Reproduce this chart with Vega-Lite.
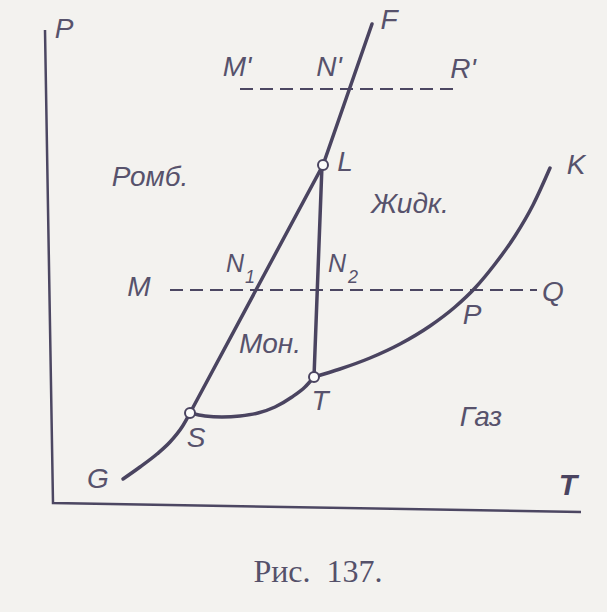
{
  "$schema": "https://vega.github.io/schema/vega-lite/v6.json",
  "width": 607,
  "height": 612,
  "autosize": {"type": "fit", "contains": "padding"},
  "padding": 0,
  "background": "#f3f2ef",
  "config": {"view": {"stroke": null}},
  "datasets": {
    "frame": [
      {"i": 0, "x": 45, "y": 582},
      {"i": 1, "x": 53, "y": 109},
      {"i": 2, "x": 581, "y": 100}
    ],
    "curves": [
      {"curve": "GS", "i": 0, "x": 123, "y": 133},
      {"curve": "GS", "i": 1, "x": 140, "y": 145},
      {"curve": "GS", "i": 2, "x": 157, "y": 158},
      {"curve": "GS", "i": 3, "x": 170, "y": 170},
      {"curve": "GS", "i": 4, "x": 182, "y": 185},
      {"curve": "GS", "i": 5, "x": 190, "y": 199},
      {"curve": "ST", "i": 0, "x": 190, "y": 199},
      {"curve": "ST", "i": 1, "x": 205, "y": 196},
      {"curve": "ST", "i": 2, "x": 222, "y": 195},
      {"curve": "ST", "i": 3, "x": 240, "y": 196},
      {"curve": "ST", "i": 4, "x": 258, "y": 199},
      {"curve": "ST", "i": 5, "x": 275, "y": 205},
      {"curve": "ST", "i": 6, "x": 292, "y": 215},
      {"curve": "ST", "i": 7, "x": 305, "y": 225},
      {"curve": "ST", "i": 8, "x": 314, "y": 235},
      {"curve": "TK", "i": 0, "x": 314, "y": 235},
      {"curve": "TK", "i": 1, "x": 340, "y": 243},
      {"curve": "TK", "i": 2, "x": 370, "y": 254},
      {"curve": "TK", "i": 3, "x": 400, "y": 268},
      {"curve": "TK", "i": 4, "x": 430, "y": 286},
      {"curve": "TK", "i": 5, "x": 455, "y": 305},
      {"curve": "TK", "i": 6, "x": 475, "y": 324},
      {"curve": "TK", "i": 7, "x": 495, "y": 348},
      {"curve": "TK", "i": 8, "x": 515, "y": 376},
      {"curve": "TK", "i": 9, "x": 533, "y": 407},
      {"curve": "TK", "i": 10, "x": 550, "y": 444}
    ],
    "straight": [
      {"curve": "SLF", "i": 0, "x": 190, "y": 199},
      {"curve": "SLF", "i": 1, "x": 323, "y": 447},
      {"curve": "SLF", "i": 2, "x": 372, "y": 588},
      {"curve": "TL", "i": 0, "x": 314, "y": 235},
      {"curve": "TL", "i": 1, "x": 322, "y": 447}
    ],
    "dashed": [
      {"curve": "MQ", "i": 0, "x": 170, "y": 322},
      {"curve": "MQ", "i": 1, "x": 537, "y": 322},
      {"curve": "MR", "i": 0, "x": 240, "y": 523},
      {"curve": "MR", "i": 1, "x": 457, "y": 523}
    ],
    "points": [
      {"name": "S", "x": 190, "y": 199},
      {"name": "L", "x": 323, "y": 447},
      {"name": "T", "x": 314, "y": 235}
    ],
    "labels": [
      {"text": "P", "x": 64, "y": 582},
      {"text": "M'", "x": 237, "y": 544},
      {"text": "N'", "x": 329, "y": 544},
      {"text": "R'", "x": 463, "y": 542},
      {"text": "F", "x": 389, "y": 591},
      {"text": "L", "x": 345, "y": 449},
      {"text": "K", "x": 576, "y": 446},
      {"text": "Жидк.", "x": 410, "y": 407},
      {"text": "Ромб.", "x": 150, "y": 434},
      {"text": "M", "x": 139, "y": 324},
      {"text": "Q", "x": 553, "y": 319},
      {"text": "Мон.", "x": 270, "y": 267},
      {"text": "S", "x": 196, "y": 173},
      {"text": "G", "x": 98, "y": 132},
      {"text": "T", "x": 320, "y": 210},
      {"text": "P", "x": 472, "y": 296},
      {"text": "Газ", "x": 481, "y": 194}
    ],
    "nlabels": [
      {"text": "N", "x": 235, "y": 348},
      {"text": "N", "x": 337, "y": 348}
    ],
    "subs": [
      {"text": "1", "x": 250, "y": 334},
      {"text": "2", "x": 353, "y": 334}
    ],
    "axislabel": [
      {"text": "T", "x": 568, "y": 126}
    ],
    "caption": [
      {"text": "Рис.\u00a0\u00a0137.", "x": 318, "y": 40}
    ]
  },
  "encoding": {
    "x": {"field": "x", "type": "quantitative", "scale": {"domain": [0, 607], "nice": false, "zero": false}, "axis": null},
    "y": {"field": "y", "type": "quantitative", "scale": {"domain": [0, 612], "nice": false, "zero": false}, "axis": null}
  },
  "layer": [
    {
      "data": {"name": "frame"},
      "mark": {"type": "line", "color": "#4c4762", "strokeWidth": 2.5},
      "encoding": {"order": {"field": "i", "type": "quantitative"}}
    },
    {
      "data": {"name": "dashed"},
      "mark": {"type": "line", "color": "#4c4762", "strokeWidth": 2, "strokeDash": [13, 7]},
      "encoding": {"detail": {"field": "curve"}, "order": {"field": "i", "type": "quantitative"}}
    },
    {
      "data": {"name": "curves"},
      "mark": {"type": "line", "color": "#4a4460", "strokeWidth": 3.5, "interpolate": "monotone", "strokeCap": "round"},
      "encoding": {"detail": {"field": "curve"}, "order": {"field": "i", "type": "quantitative"}}
    },
    {
      "data": {"name": "straight"},
      "mark": {"type": "line", "color": "#4a4460", "strokeWidth": 3.5, "strokeCap": "round"},
      "encoding": {"detail": {"field": "curve"}, "order": {"field": "i", "type": "quantitative"}}
    },
    {
      "data": {"name": "points"},
      "mark": {"type": "point", "shape": "circle", "filled": true, "fill": "#fbfbfa", "stroke": "#4a4460", "strokeWidth": 2, "size": 100, "opacity": 1}
    },
    {
      "data": {"name": "labels"},
      "mark": {"type": "text", "font": "Liberation Sans", "fontStyle": "italic", "fontSize": 28, "color": "#57526c", "align": "center", "baseline": "middle"},
      "encoding": {"text": {"field": "text"}}
    },
    {
      "data": {"name": "nlabels"},
      "mark": {"type": "text", "font": "Liberation Sans", "fontStyle": "italic", "fontSize": 25, "color": "#57526c", "align": "center", "baseline": "middle"},
      "encoding": {"text": {"field": "text"}}
    },
    {
      "data": {"name": "subs"},
      "mark": {"type": "text", "font": "Liberation Sans", "fontStyle": "italic", "fontSize": 18, "color": "#57526c", "align": "center", "baseline": "middle"},
      "encoding": {"text": {"field": "text"}}
    },
    {
      "data": {"name": "axislabel"},
      "mark": {"type": "text", "font": "Liberation Sans", "fontStyle": "italic", "fontWeight": "bold", "fontSize": 30, "color": "#4a4460", "align": "center", "baseline": "middle"},
      "encoding": {"text": {"field": "text"}}
    },
    {
      "data": {"name": "caption"},
      "mark": {"type": "text", "font": "Liberation Serif", "fontSize": 32, "color": "#55516a", "align": "center", "baseline": "middle"},
      "encoding": {"text": {"field": "text"}}
    }
  ]
}
